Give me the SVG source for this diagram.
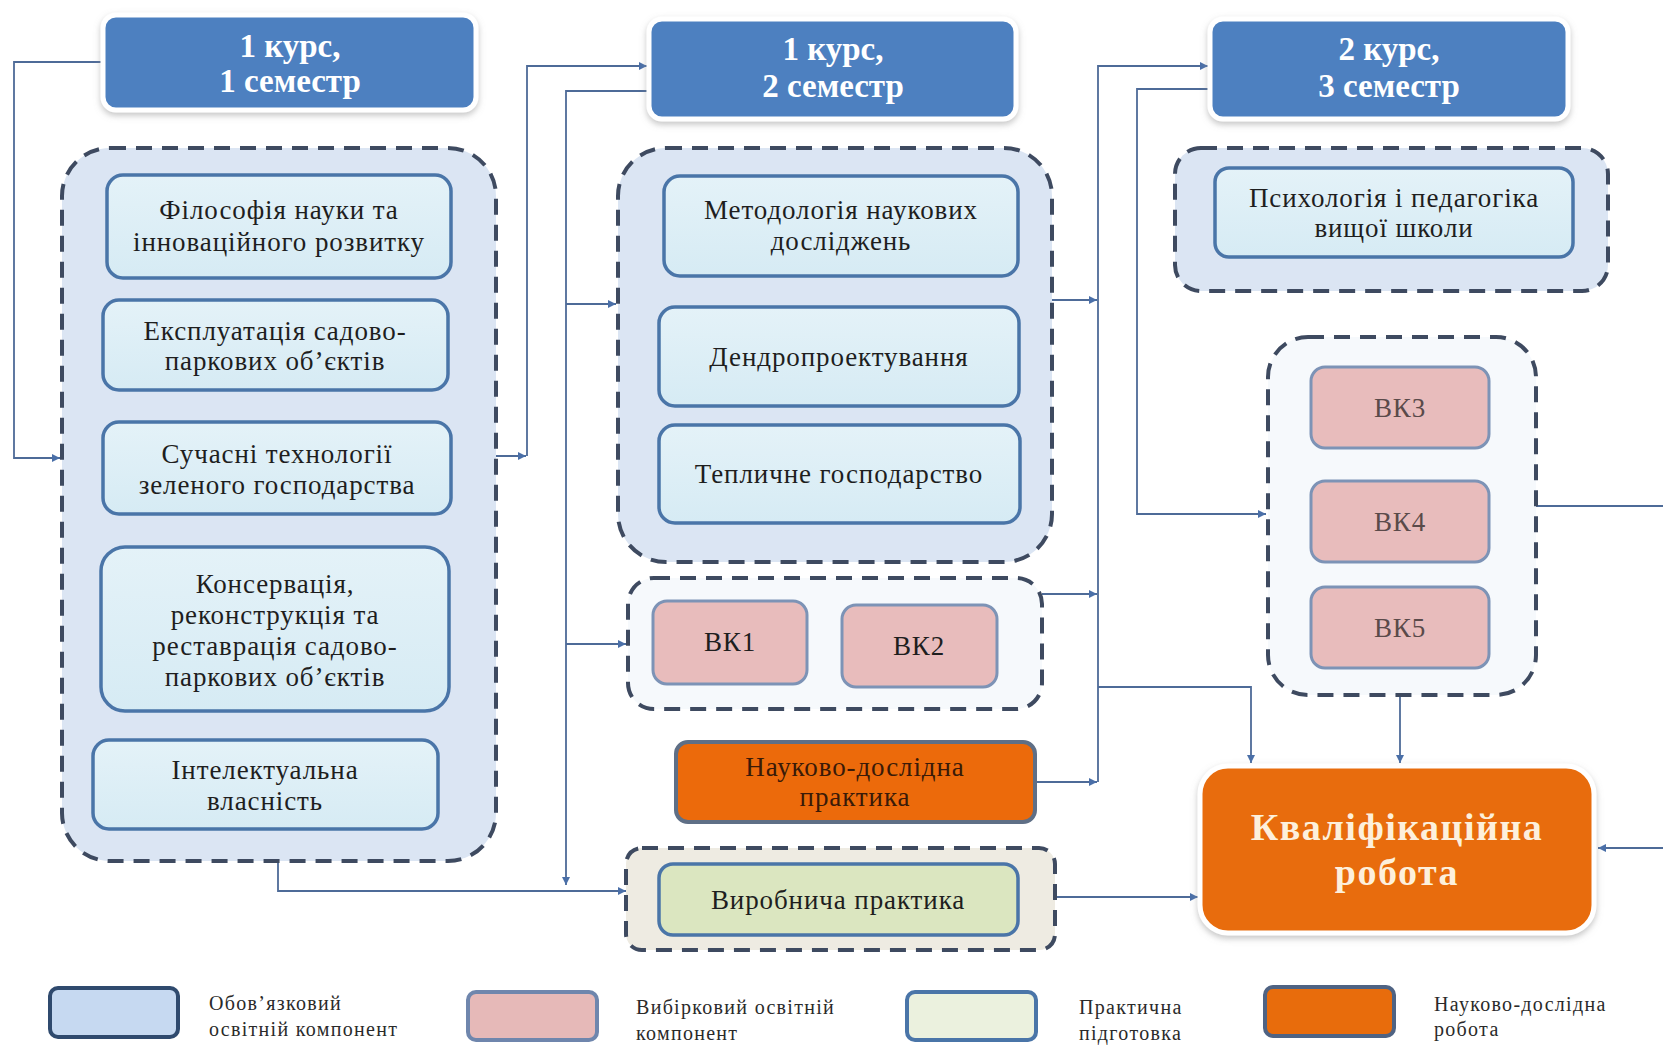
<svg xmlns="http://www.w3.org/2000/svg" width="1663" height="1048" viewBox="0 0 1663 1048">
<defs>
  <marker id="arr" viewBox="0 0 10 10" refX="10" refY="5" markerWidth="8" markerHeight="8" markerUnits="userSpaceOnUse" orient="auto">
    <path d="M0,0 L10,5 L0,10 z" fill="#4a6fa8"/>
  </marker>
  <filter id="glow" x="-10%" y="-10%" width="120%" height="130%">
    <feDropShadow dx="0" dy="3" stdDeviation="3" flood-color="#8a8a8a" flood-opacity="0.5"/>
  </filter>
  <linearGradient id="inner" x1="0" y1="0" x2="0" y2="1">
    <stop offset="0" stop-color="#e4f2f8"/>
    <stop offset="1" stop-color="#d6ebf4"/>
  </linearGradient>
</defs>
<style>
  .hdr{fill:#4d80c0;stroke:#ffffff;stroke-width:5;filter:url(#glow)}
  .htxt{font-family:"Liberation Serif",serif;font-weight:bold;font-size:33px;fill:#ffffff;text-anchor:middle}
  .cont{fill:#dbe5f3;stroke:#3e4a60;stroke-width:4;stroke-dasharray:16 10}
  .contw{fill:#f6f9fc;stroke:#3e4a60;stroke-width:4;stroke-dasharray:16 10}
  .contb{fill:#eeebe2;stroke:#3e4a60;stroke-width:4;stroke-dasharray:16 10}
  .box{fill:url(#inner);stroke:#4a75a8;stroke-width:3.5}
  .vk{fill:#e8bcbc;stroke:#7d93b6;stroke-width:3}
  .orng{fill:#ec6a0b;stroke:#5f6f86;stroke-width:4}
  .grn{fill:#dbe6c0;stroke:#4a75a8;stroke-width:3.5}
  .t{font-family:"Liberation Serif",serif;font-size:27px;fill:#1e1e1e;text-anchor:middle;letter-spacing:0.9px}
  .conn{fill:none;stroke:#4e6b98;stroke-width:1.8}
  .lg{font-family:"Liberation Serif",serif;font-size:20px;fill:#2a2a2a;letter-spacing:1.3px}
</style>

<g id="connectors">
  <path class="conn" d="M103,62 H14 V458 H60" marker-end="url(#arr)"/>
  <path class="conn" d="M490,456 H526" marker-end="url(#arr)"/>
  <path class="conn" d="M527,456 V66 H647" marker-end="url(#arr)"/>
  <path class="conn" d="M647,91 H566 V885" marker-end="url(#arr)"/>
  <path class="conn" d="M566,304 H616" marker-end="url(#arr)"/>
  <path class="conn" d="M566,644 H626" marker-end="url(#arr)"/>
  <path class="conn" d="M278,861 V891 H626" marker-end="url(#arr)"/>
  <path class="conn" d="M1052,300 H1097" marker-end="url(#arr)"/>
  <path class="conn" d="M1042,594 H1097" marker-end="url(#arr)"/>
  <path class="conn" d="M1035,782 H1097" marker-end="url(#arr)"/>
  <path class="conn" d="M1098,782 V66 H1208" marker-end="url(#arr)"/>
  <path class="conn" d="M1098,687 H1251 V763" marker-end="url(#arr)"/>
  <path class="conn" d="M1210,89 H1137 V514 H1266" marker-end="url(#arr)"/>
  <path class="conn" d="M1400,695 V763" marker-end="url(#arr)"/>
  <path class="conn" d="M1536,506 H1663"/>
  <path class="conn" d="M1663,848 H1598" marker-end="url(#arr)"/>
  <path class="conn" d="M1055,897 H1198" marker-end="url(#arr)"/>
</g>

<g id="hdr1"><rect class="hdr" x="103" y="15" width="373" height="95" rx="13"/>
  <text class="htxt" x="290" y="57">1 курс,</text><text class="htxt" x="290" y="92">1 семестр</text></g>
<g id="hdr2"><rect class="hdr" x="649" y="19" width="367" height="100" rx="13"/>
  <text class="htxt" x="833" y="60">1 курс,</text><text class="htxt" x="833" y="97">2 семестр</text></g>
<g id="hdr3"><rect class="hdr" x="1210" y="19" width="358" height="100" rx="13"/>
  <text class="htxt" x="1389" y="60">2 курс,</text><text class="htxt" x="1389" y="97">3 семестр</text></g>

<g id="sem1">
  <rect class="cont" x="62" y="148" width="434" height="713" rx="48"/>
  <g id="n-filosofiia"><rect class="box" x="107" y="175" width="344" height="103" rx="16"/>
    <text class="t" x="279" y="219">Філософія науки та</text><text class="t" x="279" y="251">інноваційного розвитку</text></g>
  <g id="n-ekspluatatsiia"><rect class="box" x="103" y="300" width="345" height="90" rx="16"/>
    <text class="t" x="275" y="340">Експлуатація  садово-</text><text class="t" x="275" y="370">паркових об’єктів</text></g>
  <g id="n-suchasni"><rect class="box" x="103" y="422" width="348" height="92" rx="16"/>
    <text class="t" x="277" y="463">Сучасні технології</text><text class="t" x="277" y="494">зеленого господарства</text></g>
  <g id="n-konservatsiia"><rect class="box" x="101" y="547" width="348" height="164" rx="24"/>
    <text class="t" x="275" y="593">Консервація,</text><text class="t" x="275" y="624">реконструкція та</text>
    <text class="t" x="275" y="655">реставрація садово-</text><text class="t" x="275" y="686">паркових об’єктів</text></g>
  <g id="n-intelekt"><rect class="box" x="93" y="740" width="345" height="89" rx="16"/>
    <text class="t" x="265" y="779">Інтелектуальна</text><text class="t" x="265" y="810">власність</text></g>
</g>

<g id="sem2">
  <rect class="cont" x="618" y="148" width="434" height="414" rx="48"/>
  <g id="n-metodologiia"><rect class="box" x="664" y="176" width="354" height="100" rx="16"/>
    <text class="t" x="841" y="219">Методологія наукових</text><text class="t" x="841" y="250">досліджень</text></g>
  <g id="n-dendro"><rect class="box" x="659" y="307" width="360" height="99" rx="16"/>
    <text class="t" x="839" y="366">Дендропроектування</text></g>
  <g id="n-teplychne"><rect class="box" x="659" y="425" width="361" height="98" rx="16"/>
    <text class="t" x="839" y="483">Тепличне господарство</text></g>
</g>

<g id="vk12">
  <rect class="contw" x="628" y="578" width="414" height="131" rx="26"/>
  <g id="n-vk1"><rect class="vk" x="653" y="601" width="154" height="83" rx="14"/><text class="t" x="730" y="651">ВК1</text></g>
  <g id="n-vk2"><rect class="vk" x="842" y="605" width="155" height="82" rx="14"/><text class="t" x="919" y="655">ВК2</text></g>
</g>

<g id="n-ndpraktyka"><rect class="orng" x="676" y="742" width="359" height="80" rx="12"/>
  <text class="t" x="855" y="776" style="fill:#3a1a08">Науково-дослідна</text>
  <text class="t" x="855" y="806" style="fill:#3a1a08">практика</text></g>

<g id="vyrob">
  <rect class="contb" x="626" y="848" width="429" height="102" rx="16"/>
  <g id="n-vyrobnycha"><rect class="grn" x="659" y="864" width="359" height="71" rx="14"/>
    <text class="t" x="838" y="909">Виробнича практика</text></g>
</g>

<g id="sem3">
  <rect class="cont" x="1175" y="148" width="433" height="143" rx="26"/>
  <g id="n-psykhologiia"><rect class="box" x="1215" y="168" width="358" height="89" rx="14"/>
    <text class="t" x="1394" y="207">Психологія  і педагогіка</text><text class="t" x="1394" y="237">вищої школи</text></g>
</g>

<g id="vk345">
  <rect class="contw" x="1268" y="337" width="268" height="358" rx="40"/>
  <g id="n-vk3"><rect class="vk" x="1311" y="367" width="178" height="81" rx="14"/><text class="t" x="1400" y="417" style="fill:#5a4a4a">ВК3</text></g>
  <g id="n-vk4"><rect class="vk" x="1311" y="481" width="178" height="81" rx="14"/><text class="t" x="1400" y="531" style="fill:#5a4a4a">ВК4</text></g>
  <g id="n-vk5"><rect class="vk" x="1311" y="587" width="178" height="81" rx="14"/><text class="t" x="1400" y="637" style="fill:#5a4a4a">ВК5</text></g>
</g>

<g id="n-kvalif"><rect x="1200" y="766" width="394" height="167" rx="28" fill="#e86c0c" stroke="#ffffff" stroke-width="5" filter="url(#glow)"/>
  <text x="1397" y="840" text-anchor="middle" font-family="Liberation Serif, serif" font-weight="bold" font-size="38" letter-spacing="1.5" fill="#fdf0dc">Кваліфікаційна</text>
  <text x="1397" y="885" text-anchor="middle" font-family="Liberation Serif, serif" font-weight="bold" font-size="38" letter-spacing="1.5" fill="#fdf0dc">робота</text></g>

<g id="legend">
  <rect x="50" y="988" width="128" height="49" rx="8" fill="#c6d9f1" stroke="#2f4a6e" stroke-width="4"/>
  <text class="lg" x="209" y="1010">Обов’язковий</text><text class="lg" x="209" y="1036">освітній компонент</text>
  <rect x="468" y="992" width="129" height="48" rx="8" fill="#e6b9b8" stroke="#6f86ad" stroke-width="4"/>
  <text class="lg" x="636" y="1014">Вибірковий освітній</text><text class="lg" x="636" y="1040">компонент</text>
  <rect x="907" y="992" width="129" height="48" rx="8" fill="#ebf1de" stroke="#4a75a8" stroke-width="4"/>
  <text class="lg" x="1079" y="1014">Практична</text><text class="lg" x="1079" y="1040">підготовка</text>
  <rect x="1265" y="987" width="129" height="49" rx="8" fill="#e86c0c" stroke="#4f6383" stroke-width="4"/>
  <text class="lg" x="1434" y="1011">Науково-дослідна</text><text class="lg" x="1434" y="1036">робота</text>
</g>
</svg>
